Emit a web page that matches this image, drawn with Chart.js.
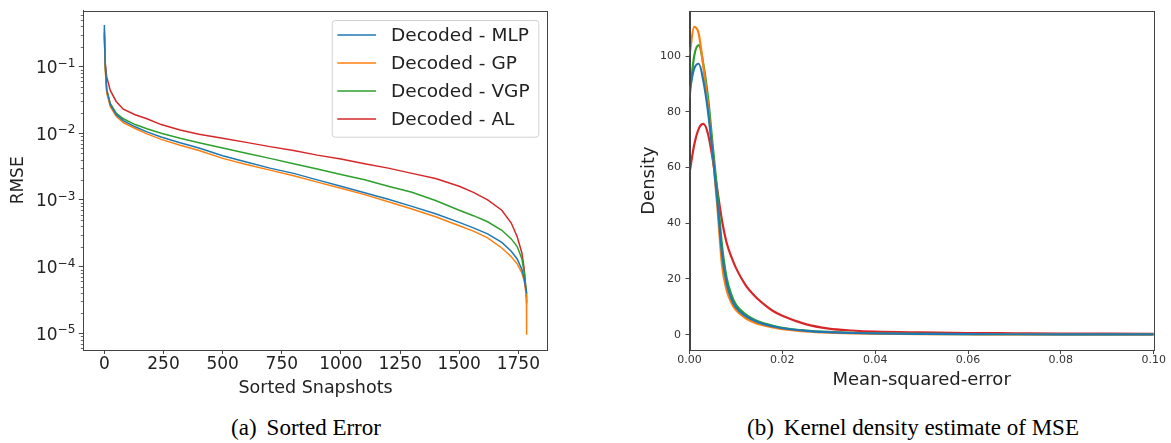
<!DOCTYPE html>
<html>
<head>
<meta charset="utf-8">
<script src="https://cdn.jsdelivr.net/npm/chart.js@4.4.0/dist/chart.umd.min.js"></script>
<style>
body { margin: 0; background: #fff; width: 1171px; height: 443px; position: relative; overflow: hidden; }
#c1 { position: absolute; left: 0; top: 0; }
#c2 { position: absolute; left: 600px; top: 0; }
.cap { position: absolute; width: 400px; text-align: center; font-family: 'Liberation Serif', 'Times New Roman', serif;
       font-size: 23px; line-height: 23px; color: #000; white-space: nowrap; }
.cap span { margin-left: 10px; }
</style>
</head>
<body>
<canvas id="c1" width="560" height="400"></canvas>
<canvas id="c2" width="571" height="400"></canvas>
<div class="cap" style="left:106px; top:416px">(a)<span>Sorted Error</span></div>
<div class="cap" style="left:713px; top:416px">(b)<span>Kernel density estimate of MSE</span></div>
<script>
// (a) sorted RMSE per snapshot
const snapIdx = [0, 3, 10, 25, 50, 80, 130, 180, 240, 320, 400, 500, 600, 700, 800, 900, 1000, 1100, 1200, 1300,
                 1400, 1500, 1560, 1620, 1680, 1720, 1745, 1765, 1775, 1780, 1784, 1785];
const rmseMLP = [0.42, 0.12, 0.045, 0.027, 0.019, 0.0155, 0.0125, 0.0105, 0.0088, 0.0072,
                 0.0060, 0.0046, 0.0037, 0.0030, 0.0025, 0.0020, 0.0016, 0.00128, 0.00102, 0.00080,
                 0.00062, 0.00046, 0.00038, 0.00031, 0.00023, 0.00017, 0.00013, 0.00009, 0.000065, 0.00005,
                 0.000042, 0.00004];
const rmseGP = [0.37, 0.10, 0.040, 0.025, 0.018, 0.0145, 0.0118, 0.0098, 0.0081, 0.0066,
                0.0055, 0.0042, 0.0034, 0.0028, 0.0023, 0.00185, 0.0015, 0.0012, 0.00094, 0.00073,
                0.00056, 0.00041, 0.00034, 0.00027, 0.00019, 0.00014, 0.00011, 0.00008, 0.00006, 0.000045,
                0.000032, 0.0000095];
const rmseVGP = [0.33, 0.11, 0.045, 0.028, 0.020, 0.0165, 0.0135, 0.0117, 0.0100, 0.0084,
                 0.0072, 0.0060, 0.0050, 0.0042, 0.0035, 0.0029, 0.0024, 0.0020, 0.0016, 0.0013,
                 0.00098, 0.00070, 0.00058, 0.00047, 0.00035, 0.00026, 0.00020, 0.00013, 0.00008, 0.000055,
                 0.00004, 0.000035];
const rmseAL = [0.30, 0.12, 0.070, 0.044, 0.030, 0.023, 0.019, 0.0165, 0.0135, 0.0112,
                0.0097, 0.0084, 0.0073, 0.0063, 0.0055, 0.0047, 0.0041, 0.0035, 0.0030, 0.0025,
                0.0021, 0.0016, 0.0013, 0.0010, 0.00070, 0.00045, 0.00028, 0.00016, 0.00009, 0.000055,
                0.000035, 0.000028];
const snapTicks = [0, 250, 500, 750, 1000, 1250, 1500, 1750];
const yTickExp = [-1, -2, -3, -4, -5];

// (b) kernel density of the MSE
const mseGrid = [0, 0.001, 0.002, 0.003, 0.004, 0.005, 0.006, 0.007, 0.008, 0.009, 0.010, 0.012, 0.014,
                 0.016, 0.018, 0.020, 0.025, 0.030, 0.035, 0.040, 0.050, 0.060, 0.070, 0.080, 0.090, 0.100];
const kdeMLP = [87.7, 95.5, 97.3, 91, 80, 65, 48, 29, 18.5, 13, 9.8, 6.8, 5.0, 3.8, 3.0, 2.3, 1.4, 0.9, 0.6, 0.45,
                0.3, 0.2, 0.15, 0.12, 0.1, 0.08];
const kdeGP = [100.3, 110.5, 108, 96, 82, 65, 46, 25, 16, 11.5, 8.8, 6.0, 4.3, 3.3, 2.6, 2.0, 1.2, 0.75, 0.5, 0.35,
               0.2, 0.15, 0.1, 0.08, 0.06, 0.05];
const kdeVGP = [85, 100, 104, 97, 85, 68, 51, 32, 20.5, 14.5, 10.8, 7.4, 5.4, 4.1, 3.2, 2.5, 1.5, 1.0, 0.7, 0.5,
                0.3, 0.2, 0.15, 0.12, 0.1, 0.08];
const kdeAL = [58, 68, 74, 75.7, 72, 63, 52, 41, 33, 28, 24, 18, 14, 11, 8.5, 6.8, 3.8, 2.2, 1.5, 1.1,
               0.8, 0.6, 0.5, 0.4, 0.35, 0.3];
const mseTicks = [0, 0.02, 0.04, 0.06, 0.08, 0.10];
const densityTicks = [0, 20, 40, 60, 80, 100];

const seriesNames = ['Decoded - MLP', 'Decoded - GP', 'Decoded - VGP', 'Decoded - AL'];
const colors = ['#1f77b4', '#ff7f0e', '#2ca02c', '#d62728'];

Chart.defaults.font.family = 'DejaVu Sans';
Chart.defaults.color = '#222';

function pairs(xs, ys) {
    return ys.map((y, i) => ({ x: xs[i], y: y }));
}

function fixedTicks(values) {
    return s => { s.ticks = values.map(v => ({ value: v })); };
}

// box round the plot area, like matplotlib spines
const frame = {
    id: 'frame',
    afterDraw(chart) {
        const { ctx, chartArea: a } = chart;
        ctx.save();
        ctx.strokeStyle = '#444';
        ctx.lineWidth = 1;
        ctx.strokeRect(Math.round(a.left) + 0.5, Math.round(a.top) + 0.5,
                       Math.round(a.right - a.left), Math.round(a.bottom - a.top));
        ctx.restore();
    }
};

// minor ticks and 10^n labels on the log axis
const logLabels = {
    id: 'logLabels',
    afterDraw(chart) {
        const ctx = chart.ctx;
        const y = chart.scales.y;
        const left = chart.chartArea.left;
        ctx.save();
        ctx.strokeStyle = '#444';
        ctx.lineWidth = 0.8;
        for (let e = -6; e <= 0; e++) {
            for (let m = 2; m <= 9; m++) {
                const v = m * Math.pow(10, e);
                if (v < y.min || v > y.max) continue;
                const py = Math.round(y.getPixelForValue(v)) + 0.5;
                ctx.beginPath();
                ctx.moveTo(left - 2.5, py);
                ctx.lineTo(left, py);
                ctx.stroke();
            }
        }
        ctx.fillStyle = '#222';
        ctx.textBaseline = 'alphabetic';
        yTickExp.forEach(e => {
            const py = y.getPixelForValue(Math.pow(10, e));
            const sup = '\u2212' + Math.abs(e);
            ctx.font = '12px "DejaVu Sans"';
            const sw = ctx.measureText(sup).width;
            const xr = left - 8;
            ctx.textAlign = 'left';
            ctx.fillText(sup, xr - sw, py);
            ctx.font = '17px "DejaVu Sans"';
            ctx.textAlign = 'right';
            ctx.fillText('10', xr - sw, py + 6.5);
        });
        ctx.restore();
    }
};

// legend box in the upper right corner
const boxLegend = {
    id: 'boxLegend',
    afterDatasetsDraw(chart) {
        const { ctx, chartArea } = chart;
        const w = 206.6, h = 116.7;
        const x0 = chartArea.right - 9.4 - w;
        const y0 = chartArea.top + 9.3;
        ctx.save();
        ctx.fillStyle = 'rgba(255,255,255,0.8)';
        ctx.strokeStyle = '#d0d0d0';
        ctx.lineWidth = 1;
        ctx.beginPath();
        ctx.roundRect(x0 + 0.5, y0 + 0.5, w, h, 3);
        ctx.fill();
        ctx.stroke();
        ctx.font = '18.5px "DejaVu Sans"';
        ctx.textBaseline = 'middle';
        ctx.textAlign = 'left';
        chart.data.datasets.forEach((ds, i) => {
            const ly = y0 + 15 + i * 28;
            ctx.strokeStyle = ds.borderColor;
            ctx.lineWidth = 1.5;
            ctx.beginPath();
            ctx.moveTo(x0 + 5.6, ly);
            ctx.lineTo(x0 + 44.3, ly);
            ctx.stroke();
            ctx.fillStyle = '#222';
            ctx.fillText(ds.label, x0 + 59.3, ly + 1);
        });
        ctx.restore();
    }
};

const rmseSeries = [rmseMLP, rmseGP, rmseVGP, rmseAL];
new Chart(document.getElementById('c1'), {
    type: 'line',
    data: {
        datasets: rmseSeries.map((s, i) => ({
            label: seriesNames[i],
            data: pairs(snapIdx, s),
            borderColor: colors[i],
            borderWidth: 1.5,
            pointRadius: 0,
            tension: 0
        }))
    },
    options: {
        responsive: false,
        animation: false,
        devicePixelRatio: 1,
        layout: { padding: { left: 0, right: 12.3, top: 10.7, bottom: 0 } },
        plugins: { legend: { display: false }, tooltip: { enabled: false } },
        scales: {
            x: {
                type: 'linear',
                min: -89, max: 1874,
                afterFit: s => { s.height = 50; },
                afterBuildTicks: fixedTicks(snapTicks),
                grid: { drawOnChartArea: false, tickLength: 4, tickColor: '#444' },
                border: { color: '#444' },
                ticks: { padding: 0, autoSkip: false, maxRotation: 0,
                         font: { size: 17 }, callback: v => String(v) },
                title: { display: true, text: 'Sorted Snapshots', font: { size: 17.5 }, padding: { top: 0, bottom: 1.5 } }
            },
            y: {
                type: 'logarithmic',
                min: 5.6e-6, max: 0.69,
                afterFit: s => { s.width = 83.3; },
                afterBuildTicks: fixedTicks(yTickExp.map(e => Math.pow(10, e))),
                grid: { drawOnChartArea: false, tickLength: 4.5, tickColor: '#444' },
                border: { color: '#444' },
                ticks: { autoSkip: false, callback: () => '' },
                title: { display: true, text: 'RMSE', font: { size: 17 }, padding: { top: 8.3, bottom: 0 } }
            }
        }
    },
    plugins: [frame, logLabels, boxLegend]
});

const kdeSeries = [kdeMLP, kdeGP, kdeVGP, kdeAL];
new Chart(document.getElementById('c2'), {
    type: 'line',
    data: {
        datasets: kdeSeries.map((s, i) => ({
            label: seriesNames[i],
            data: pairs(mseGrid, s),
            borderColor: colors[i],
            borderWidth: 2.2,
            pointRadius: 0,
            cubicInterpolationMode: 'monotone'
        }))
    },
    options: {
        responsive: false,
        animation: false,
        devicePixelRatio: 1,
        layout: { padding: { left: 0, right: 17.3, top: 10.7, bottom: 0 } },
        plugins: { legend: { display: false }, tooltip: { enabled: false } },
        scales: {
            x: {
                type: 'linear',
                min: 0, max: 0.1,
                afterFit: s => { s.height = 50; },
                afterBuildTicks: fixedTicks(mseTicks),
                grid: { drawOnChartArea: false, tickLength: 4, tickColor: '#444' },
                border: { color: '#444' },
                ticks: { padding: 0, autoSkip: false, maxRotation: 0,
                         font: { size: 11 }, color: '#333', callback: v => v.toFixed(2) },
                title: { display: true, text: 'Mean-squared-error', font: { size: 18 }, padding: { top: 0, bottom: 9.2 } }
            },
            y: {
                type: 'linear',
                min: -5.5, max: 116.2,
                afterFit: s => { s.width = 89.5; },
                afterBuildTicks: fixedTicks(densityTicks),
                grid: { drawOnChartArea: false, tickLength: 4, tickColor: '#444' },
                border: { color: '#444' },
                ticks: { padding: 4.5, autoSkip: false,
                         font: { size: 11 }, color: '#333', callback: v => String(v) },
                title: { display: true, text: 'Density', font: { size: 18 }, padding: { top: 38.2, bottom: 0 } }
            }
        }
    },
    plugins: [frame]
});
</script>
</body>
</html>
